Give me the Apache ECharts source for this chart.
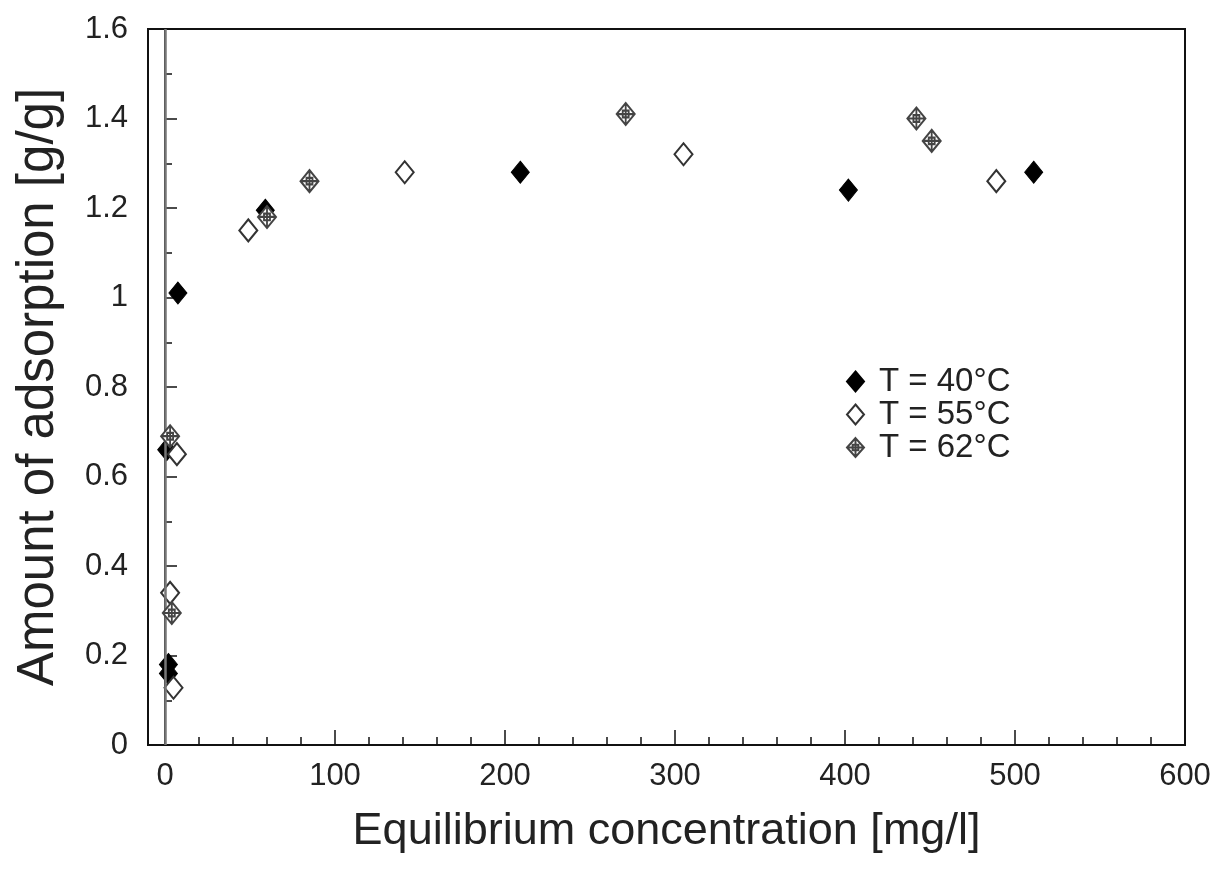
<!DOCTYPE html>
<html>
<head>
<meta charset="utf-8">
<script src="https://cdn.jsdelivr.net/npm/echarts@6/dist/echarts.min.js"></script>
<style>
  html, body { margin: 0; padding: 0; background: #fff; }
  #chart { width: 1223px; height: 878px; }
</style>
</head>
<body>
<div id="chart"></div>
<script>
// 数据：平衡浓度 [mg/l] 与吸附量 [g/g]
var t40 = [[1, 0.66], [2, 0.18], [2, 0.16], [7.6, 1.01], [59, 1.195], [209, 1.28], [402, 1.24], [511, 1.28]];
var t55 = [[5, 0.128], [3, 0.34], [7, 0.65], [49, 1.15], [141, 1.28], [305, 1.32], [489, 1.26]];
var t62 = [[3, 0.69], [4, 0.295], [60, 1.18], [85, 1.26], [271, 1.41], [442, 1.40], [451, 1.35]];

var seriesNames = ['T = 40°C', 'T = 55°C', 'T = 62°C'];
var xLabels = [0, 100, 200, 300, 400, 500, 600];
var xMinorTicks = [20, 40, 60, 80, 120, 140, 160, 180, 220, 240, 260, 280, 320, 340, 360, 380,
                   420, 440, 460, 480, 520, 540, 560, 580];

var font = '"Liberation Sans", Arial, sans-serif';
var crossDiamond = 'path://M0,-10L9,0L0,10L-9,0Z M0,-10L0,10 M-9,0L9,0 M-3,-3L3,-3L3,3L-3,3Z';

var chart = echarts.init(document.getElementById('chart'));

var option = {
    backgroundColor: '#fff',
    animation: false,
    grid: {
        left: 148, right: 38, top: 29, bottom: 133,
        show: true, borderColor: '#111', borderWidth: 2, backgroundColor: 'transparent'
    },
    legend: {
        orient: 'vertical',
        left: 841, top: 360,
        itemWidth: 17, itemHeight: 20, itemGap: 0,
        textStyle: { fontFamily: font, fontSize: 33, lineHeight: 32, color: '#222', padding: [0, 0, 0, 10] },
        data: seriesNames
    },
    xAxis: [
        {
            type: 'value', min: -10, max: 600, position: 'bottom',
            name: 'Equilibrium concentration [mg/l]',
            nameLocation: 'middle', nameGap: 64,
            nameTextStyle: { fontFamily: font, fontSize: 45, color: '#222' },
            axisLine: { show: true, lineStyle: { color: '#111', width: 2 } },
            axisTick: { show: true, inside: true, length: 8, customValues: xMinorTicks, lineStyle: { color: '#111', width: 1.5 } },
            axisLabel: { customValues: xLabels, margin: 16, fontFamily: font, fontSize: 31, color: '#222' },
            splitLine: { show: false }
        },
        {
            type: 'value', min: -10, max: 600, position: 'bottom',
            axisLine: { show: false },
            axisTick: { show: true, inside: true, length: 15, customValues: xLabels, lineStyle: { color: '#111', width: 1.5 } },
            axisLabel: { show: false },
            splitLine: { show: false }
        }
    ],
    yAxis: {
        type: 'value', min: 0, max: 1.6, interval: 0.2,
        name: 'Amount of adsorption [g/g]',
        nameLocation: 'middle', nameGap: 84,
        nameTextStyle: { fontFamily: font, fontSize: 51, color: '#222' },
        axisLine: { show: true, lineStyle: { color: '#111', width: 2 } },
        axisTick: { show: true, inside: true, length: 12, lineStyle: { color: '#111', width: 1.5 } },
        minorTick: { show: true, splitNumber: 2, length: 7, lineStyle: { color: '#111', width: 1.5 } },
        axisLabel: { margin: 20, fontFamily: font, fontSize: 31, color: '#222' },
        splitLine: { show: false }
    },
    series: [
        {
            name: seriesNames[0], type: 'scatter', data: t40,
            symbol: 'diamond', symbolSize: [18, 22],
            itemStyle: { color: '#000', borderColor: '#000', borderWidth: 1, opacity: 1 },
            markLine: {
                silent: true, symbol: 'none', label: { show: false },
                lineStyle: { color: '#777', width: 2.5, type: 'solid' },
                data: [{ xAxis: 0 }]
            },
            z: 3
        },
        {
            name: seriesNames[1], type: 'scatter', data: t55,
            symbol: 'diamond', symbolSize: [18, 22],
            itemStyle: { color: '#fff', borderColor: '#333', borderWidth: 2, opacity: 1 },
            z: 4
        },
        {
            name: seriesNames[2], type: 'scatter', data: t62,
            symbol: crossDiamond, symbolSize: [18, 22],
            itemStyle: { color: '#fff', borderColor: '#444', borderWidth: 2, opacity: 1 },
            z: 5
        }
    ]
};

chart.setOption(option);
window.onresize = function () {
    chart.resize();
};
</script>
</body>
</html>
